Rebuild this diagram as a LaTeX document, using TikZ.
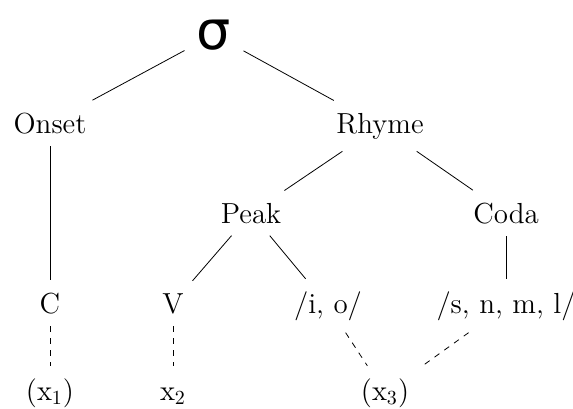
\documentclass[tikz,border=0pt]{standalone}
\usepackage{fontspec}
\newfontfamily\sigmafont{DejaVu Sans}
\begin{document}
\begin{tikzpicture}[x=0.5pt, y=-0.5pt, font=\fontsize{14.5}{17}\selectfont,
    lbl/.style={inner sep=6pt, anchor=base}]
  \useasboundingbox (0,0) rectangle (573,408);

  % syllable and its constituents
  \node[lbl] (syl) at (214,49) {\sigmafont\fontsize{27}{29}\selectfont σ};
  \node[lbl] (onset) at (50,133) {Onset};
  \node[lbl] (rhyme) at (380,133) {Rhyme};
  \node[lbl] (peak) at (251,223) {Peak};
  \node[lbl] (coda) at (506,223) {Coda};

  % segments
  \node[lbl] (c) at (50,313) {C};
  \node[lbl] (v) at (173,313) {V};
  \node[lbl] (io) at (328,313) {/i, o/};
  \node[lbl] (snml) at (506,313) {/s, n, m, l/};

  % timing slots
  \node[lbl] (x1) at (50,400) {(x$_1$)};
  \node[lbl] (x2) at (173,400) {\vphantom{(}x$_2$};
  \node[lbl] (x3) at (385,400) {(x$_3$)};

  \foreach \a/\b in {syl/onset, syl/rhyme, onset/c, rhyme/peak, rhyme/coda,
      peak/v, peak/io, coda/snml} {
    \draw (\a) -- (\b);
  }
  % association lines
  \foreach \a/\b in {c/x1, v/x2, io/x3, snml/x3} {
    \draw[dashed] (\a) -- (\b);
  }
\end{tikzpicture}
\end{document}
